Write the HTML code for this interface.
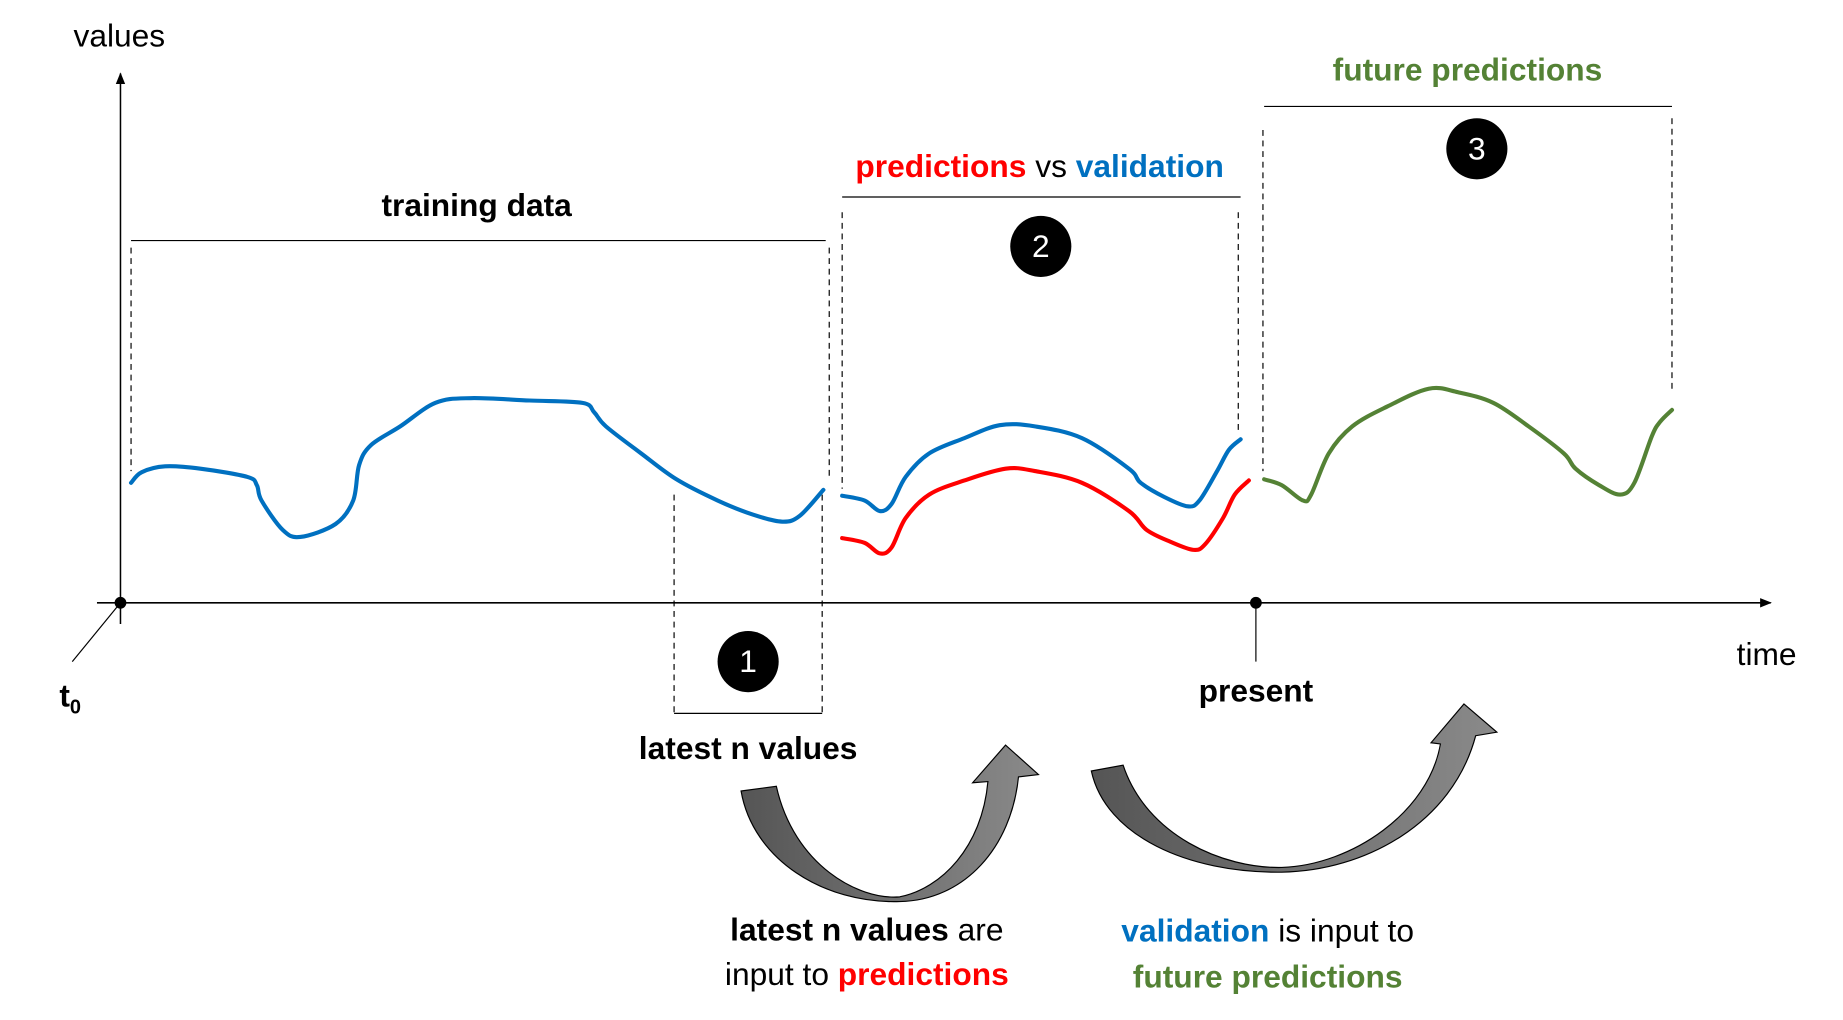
<!DOCTYPE html>
<html><head><meta charset="utf-8"><style>
html,body{margin:0;padding:0;background:#fff;}
svg{display:block;}
text{font-family:"Liberation Sans","DejaVu Sans",sans-serif;font-size:27px;}
.b{font-weight:bold;}
</style></head><body>
<svg width="1843" height="1020" viewBox="-0.5 -0.5 1568 867.2" preserveAspectRatio="none" xmlns="http://www.w3.org/2000/svg">
<defs>
<marker id="ah" markerWidth="10" markerHeight="10" refX="9" refY="5" orient="auto" markerUnits="userSpaceOnUse">
<path d="M0,1 L10,5 L0,9 Z" fill="#000"/></marker>
<linearGradient id="g1" x1="0" y1="0" x2="1" y2="0"><stop offset="0" stop-color="#555"/><stop offset="1" stop-color="#8a8a8a"/></linearGradient>
</defs>
<line x1="102" y1="530" x2="102" y2="62" stroke="#000" stroke-width="1.3" marker-end="url(#ah)"/>
<line x1="82" y1="512" x2="1506" y2="512" stroke="#000" stroke-width="1.3" marker-end="url(#ah)"/>
<circle cx="102" cy="512" r="5" fill="#000"/>
<line x1="102" y1="512" x2="61" y2="562" stroke="#000" stroke-width="1"/>
<text x="62" y="39">values</text>
<text x="1477" y="565">time</text>
<text x="50" y="600" class="b">t<tspan font-size="17" dy="6">0</tspan></text>
<circle cx="1068" cy="512" r="5" fill="#000"/>
<line x1="1068" y1="512" x2="1068" y2="562" stroke="#000" stroke-width="1"/>
<text x="1068" y="596" class="b" text-anchor="middle">present</text>
<g stroke="#000" stroke-width="1" fill="none">
<line x1="111" y1="204" x2="702" y2="204"/>
<line x1="716" y1="167" x2="1055" y2="167"/>
<line x1="1075" y1="90" x2="1422" y2="90"/>
<line x1="573" y1="606" x2="699" y2="606"/>
<g stroke-dasharray="5,4">
<line x1="111" y1="210" x2="111" y2="400"/>
<line x1="705" y1="210" x2="705" y2="405"/>
<line x1="716" y1="180" x2="716" y2="415"/>
<line x1="1053" y1="180" x2="1053" y2="368"/>
<line x1="1074" y1="110" x2="1074" y2="400"/>
<line x1="1422" y1="100" x2="1422" y2="330"/>
<line x1="573" y1="420" x2="573" y2="605"/>
<line x1="699" y1="420" x2="699" y2="605"/>
</g></g>
<text x="405" y="183" class="b" text-anchor="middle">training data</text>
<text x="884" y="150" class="b" text-anchor="middle"><tspan fill="#ff0000">predictions</tspan><tspan font-weight="normal"> vs </tspan><tspan fill="#0070c0">validation</tspan></text>
<text x="1248" y="68" class="b" text-anchor="middle" fill="#548235">future predictions</text>
<text x="636" y="645" class="b" text-anchor="middle">latest n values</text>
<circle cx="636" cy="562" r="26" fill="#000"/><text x="636" y="571" font-size="22" fill="#fff" text-anchor="middle">1</text>
<circle cx="885" cy="209" r="26" fill="#000"/><text x="885" y="218" font-size="22" fill="#fff" text-anchor="middle">2</text>
<circle cx="1256" cy="126" r="26" fill="#000"/><text x="1256" y="135" font-size="22" fill="#fff" text-anchor="middle">3</text>
<g fill="none" stroke-width="3.5" stroke-linejoin="round" stroke-linecap="round" id="curves"></g>
<path d="M630,672 L660,668 C675,735 730,765 765,762 C800,755 835,720 840,664 L827,665 L855,633 L883,658 L866,660 C860,720 820,765 765,766 C700,768 640,730 630,672 Z" fill="url(#g1)" stroke="#000" stroke-width="1"/>
<path d="M928,655 L955,650 C975,710 1040,738 1090,737 C1150,735 1215,690 1225,632 L1217,631 L1245,598 L1273,622 L1255,625 C1235,700 1160,740 1090,741 C1010,742 940,710 928,655 Z" fill="url(#g1)" stroke="#000" stroke-width="1"/>
<text x="737" y="799" text-anchor="middle"><tspan class="b">latest n values</tspan> are</text>
<text x="737" y="837" text-anchor="middle">input to <tspan class="b" fill="#ff0000">predictions</tspan></text>
<text x="1078" y="800" text-anchor="middle"><tspan class="b" fill="#0070c0">validation</tspan> is input to</text>
<text x="1078" y="839" text-anchor="middle" class="b" fill="#548235">future predictions</text>
</svg>
<script>
(function(){
var data=[
["#0070c0","111,410 120,401 140,396 170,398 210,405 218,412 222,425 240,450 255,456 285,445 300,425 305,395 315,378 340,362 370,342 400,338 450,340 495,342 505,350 515,362 545,385 575,407 610,425 640,437 665,443 680,438 700,416"],
["#0070c0","716,421 735,425 748,434 758,428 770,405 790,385 820,372 850,361 880,362 920,372 960,398 970,410 990,422 1010,430 1020,425 1035,400 1045,382 1055,373"],
["#ff0000","716,457 735,461 748,470 758,465 770,440 790,420 820,408 855,398 880,400 920,410 960,434 975,450 995,460 1015,467 1025,462 1040,440 1050,420 1062,408"],
["#548235","1075,407 1090,412 1108,425 1115,420 1130,385 1150,362 1180,345 1215,330 1240,333 1270,342 1300,362 1330,385 1340,398 1360,412 1378,420 1390,410 1405,370 1412,358 1422,348"]];
var g=document.getElementById('curves');
data.forEach(function(d){
var p=d[1].split(' ').map(function(s){return s.split(',').map(Number);});
var s='M'+p[0][0]+','+p[0][1];
for(var i=0;i<p.length-1;i++){
var p0=p[i-1]||p[i],p1=p[i],p2=p[i+1],p3=p[i+2]||p2;
var c1x=p1[0]+(p2[0]-p0[0])/6,c1y=p1[1]+(p2[1]-p0[1])/6;
var c2x=p2[0]-(p3[0]-p1[0])/6,c2y=p2[1]-(p3[1]-p1[1])/6;
s+=' C'+c1x+','+c1y+' '+c2x+','+c2y+' '+p2[0]+','+p2[1];}
var e=document.createElementNS('http://www.w3.org/2000/svg','path');
e.setAttribute('d',s);e.setAttribute('stroke',d[0]);g.appendChild(e);});
})();
</script>
</body></html>
